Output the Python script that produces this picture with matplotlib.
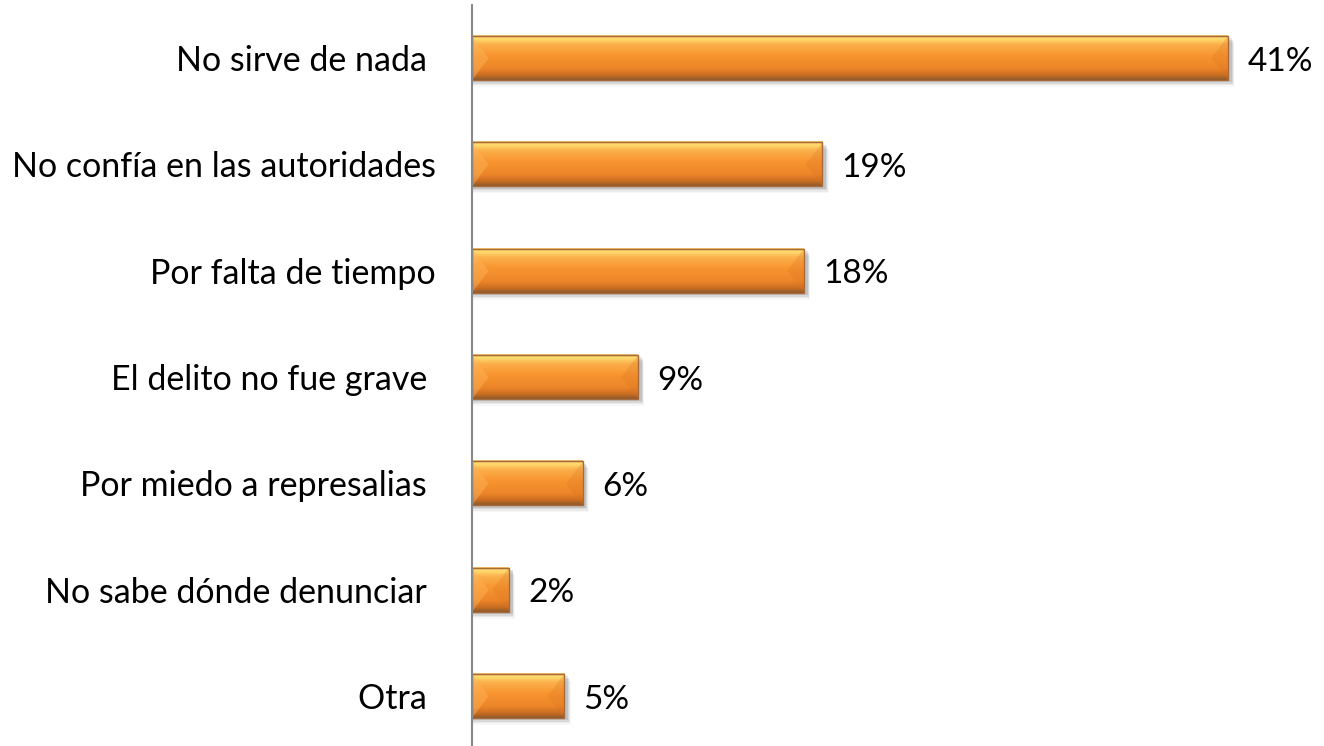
import numpy as np
import matplotlib.pyplot as plt
from matplotlib.colors import LinearSegmentedColormap
from matplotlib.patches import Rectangle, Polygon

# reasons for not reporting a crime
categories = ['No sirve de nada ', 'No confía en las autoridades', 'Por falta de tiempo',
              'El delito no fue grave ', 'Por miedo a represalias ', 'No sabe dónde denunciar ', 'Otra ']
values = [41, 19, 18, 9, 6, 2, 5]
value_labels = ['41%', '19%', '18%', '9%', '6%', '2%', '5%']

plt.rcParams['font.family'] = ['Lato', 'DejaVu Sans']

W, H = 1324, 746
fig = plt.figure(figsize=(W / 100, H / 100), dpi=100)
ax = fig.add_axes([472 / W, 1 - 745 / H, (W - 472) / W, 740 / H])

bar_h = 0.414
# vertical gradient of the bevelled bars, top -> bottom
grad = LinearSegmentedColormap.from_list('bar', [
    (0.0, '#f6c46a'), (0.08, '#ffdc6e'), (0.2, '#fbb04c'), (0.45, '#f8952f'),
    (0.75, '#ec8529'), (0.9, '#c96d22'), (1.0, '#8f5a2c')])
img = np.linspace(0, 1, 64).reshape(-1, 1)

for i, v in enumerate(values):
    top = i - bar_h / 2
    bot = i + bar_h / 2
    # soft shadow underneath
    for k, a in enumerate([0.10, 0.07, 0.05, 0.03]):
        d = 0.02 + k * 0.015
        ax.add_patch(Rectangle((0.05, top + d), v + 0.15 + k * 0.05, bar_h,
                               facecolor='#000000', alpha=a, lw=0, zorder=1))
    ax.imshow(img, cmap=grad, aspect='auto', extent=(0, v, bot, top),
              interpolation='bilinear', zorder=2)
    # bevel on the left and right ends
    bw = min(0.9, v / 2)
    ax.add_patch(Polygon([(0, top), (bw, i), (0, bot)], closed=True,
                         facecolor='#ffb45a', alpha=0.45, lw=0, zorder=3))
    ax.add_patch(Polygon([(v, top), (v - bw, i), (v, bot)], closed=True,
                         facecolor='#d97424', alpha=0.25, lw=0, zorder=3))
    ax.add_patch(Rectangle((0, top), v, bar_h, facecolor='none',
                           edgecolor='#a86a3a', lw=1.0, zorder=4))
    ax.annotate(value_labels[i], (v, i), xytext=(14, -2.5), textcoords='offset points',
                ha='left', va='center', fontsize=24, color='#000000')

ax.set_xlim(0, (W - 472) / (756 / 41))
ax.set_ylim(6.46, -0.5)
ax.set_yticks(range(len(categories)))
ax.set_yticklabels(categories, fontsize=24.5)
ax.tick_params(axis='y', length=0, pad=26)
ax.set_xticks([])
for s in ['top', 'right', 'bottom']:
    ax.spines[s].set_visible(False)
ax.spines['left'].set_color('#888888')
ax.spines['left'].set_linewidth(1.5)
ax.spines['left'].set_zorder(5)

fig.savefig('out.png', dpi=100)
